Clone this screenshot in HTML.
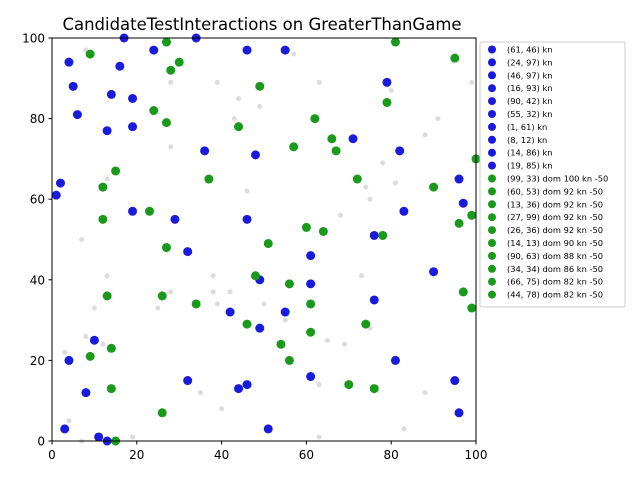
<!DOCTYPE html>
<html><head><meta charset="utf-8"><style>
html,body{margin:0;padding:0;background:#fff;}
svg{display:block;font-family:"DejaVu Sans","Liberation Sans",sans-serif;}
</style></head><body>
<svg id="chart" width="640" height="480">
<text x="262" y="30" text-anchor="middle" font-size="16.5">CandidateTestInteractions on GreaterThanGame</text>
<g id="grey"></g><g id="blue"></g><g id="green"></g>
<rect x="52" y="38" width="424" height="403" fill="none" stroke="#000" stroke-width="1"/>
<g id="ticks"></g>
<g id="legend"></g>
</svg>
<script>
const greyX=[3,4,7,8,8,7,10,12,13,13,19,25,28,28,28,35,38,38,39,39,40,42,43,44,46,49,50,55,57,63,63,63,65,68,69,73,74,75,75,78,80,81,83,88,88,91,99];
const greyY=[22,5,50,26,97,0,33,24,65,41,1,33,73,89,37,12,41,37,89,34,8,37,80,85,62,83,34,30,96,89,14,1,25,56,24,41,63,60,28,69,87,64,3,12,76,80,89];
const blueX=[3,4,8,10,11,13,13,14,16,17,19,19,19,24,29,32,32,34,36,42,44,46,46,46,48,49,49,51,55,55,61,61,61,71,76,76,79,81,82,83,90,95,96,96,97,1,2,4,5,6];
const blueY=[3,20,12,25,1,0,77,86,93,100,85,78,57,97,55,47,15,100,72,32,13,14,55,97,71,40,28,3,32,97,46,39,16,75,51,35,89,20,72,57,42,15,7,65,59,61,64,94,88,81];
const greenX=[9,9,12,12,13,14,14,15,15,23,24,26,26,27,27,27,28,30,34,37,44,46,48,49,51,54,56,56,57,60,61,61,62,64,66,67,70,72,74,76,78,79,81,90,95,96,97,99,99,100];
const greenY=[96,21,63,55,36,23,13,67,0,57,82,36,7,99,79,48,92,94,34,65,78,29,41,88,49,24,39,20,73,53,34,27,80,52,75,72,14,65,29,13,51,84,99,63,95,54,37,33,56,70];
const xTicks=[0,20,40,60,80,100];
const yTicks=[0,20,40,60,80,100];
const legendLabels=["(61, 46) kn","(24, 97) kn","(46, 97) kn","(16, 93) kn","(90, 42) kn","(55, 32) kn","(1, 61) kn","(8, 12) kn","(14, 86) kn","(19, 85) kn","(99, 33) dom 100 kn -50","(60, 53) dom 92 kn -50","(13, 36) dom 92 kn -50","(27, 99) dom 92 kn -50","(26, 36) dom 92 kn -50","(14, 13) dom 90 kn -50","(90, 63) dom 88 kn -50","(34, 34) dom 86 kn -50","(66, 75) dom 82 kn -50","(44, 78) dom 82 kn -50"];
const NS="http://www.w3.org/2000/svg";
const sx=v=>52+v*4.24, sy=v=>441-v*4.03;
function circ(parent,x,y,r,fill,name){const c=document.createElementNS(NS,'circle');c.setAttribute('cx',x);c.setAttribute('cy',y);c.setAttribute('r',r);c.setAttribute('fill',fill);


parent.appendChild(c);}
const g=document.getElementById('grey'),b=document.getElementById('blue'),gr=document.getElementById('green');
greyX.forEach((v,i)=>circ(g,sx(v),sy(greyY[i]),2.5,'#dcdcdc','grey-point'));
blueX.forEach((v,i)=>circ(b,sx(v),sy(blueY[i]),4.5,'#1a1adc','blue-point'));
greenX.forEach((v,i)=>circ(gr,sx(v),sy(greenY[i]),4.5,'#1a9a1a','green-point'));
const t=document.getElementById('ticks');
function line(x1,y1,x2,y2){const l=document.createElementNS(NS,'line');l.setAttribute('x1',x1);l.setAttribute('y1',y1);l.setAttribute('x2',x2);l.setAttribute('y2',y2);l.setAttribute('stroke','#000');


t.appendChild(l);}
function txt(parent,x,y,s,anchor,size,name){const e=document.createElementNS(NS,'text');e.setAttribute('x',x);e.setAttribute('y',y);e.setAttribute('text-anchor',anchor);e.setAttribute('font-size',size);e.textContent=s;


parent.appendChild(e);}
xTicks.forEach(v=>{line(sx(v),441,sx(v),444.5);txt(t,sx(v),459,String(v),'middle',12,'x-tick-label');});
yTicks.forEach(v=>{line(48.5,sy(v),52,sy(v));txt(t,45,sy(v)+4.5,String(v),'end',12,'y-tick-label');});
const L=document.getElementById('legend');
const box=document.createElementNS(NS,'rect');box.setAttribute('x',480);box.setAttribute('y',42);box.setAttribute('width',145);box.setAttribute('height',265);box.setAttribute('rx',2);box.setAttribute('fill','#fff');box.setAttribute('fill-opacity','0.8');box.setAttribute('stroke','#ccc');


L.appendChild(box);
legendLabels.forEach((s,i)=>{const y=49.5+i*12.9;circ(L,492,y,4,i<10?'#1a1adc':'#1a9a1a','legend-marker');txt(L,507,y+3,s,'start',8.3,'legend-entry');});
</script>
</body></html>
